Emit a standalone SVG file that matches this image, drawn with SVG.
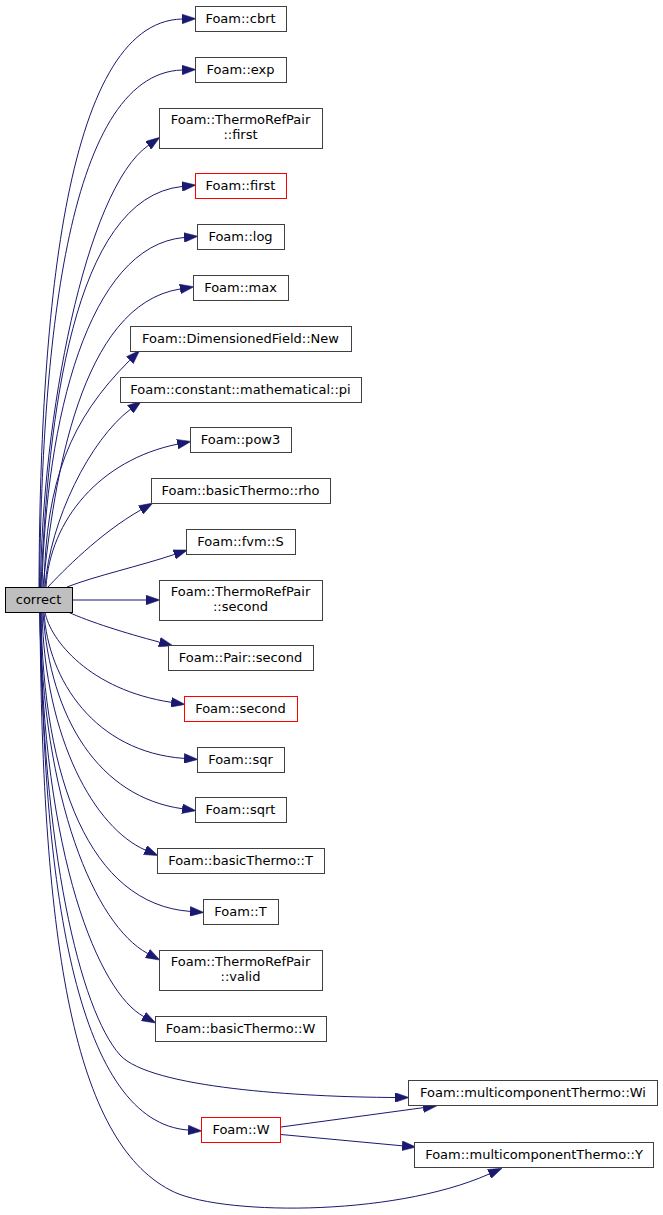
<svg xmlns="http://www.w3.org/2000/svg" width="663" height="1215" viewBox="0 0 663 1215">
<style>
.node rect{fill:#ffffff;stroke:#404040;stroke-width:1}
.node.red rect{stroke:#ff0000}
.node.cur rect{fill:#bfbfbf;stroke:#000000}
text{font-family:"DejaVu Sans","Liberation Sans",sans-serif;font-size:13px;text-anchor:middle;fill:#000000}
.edges path{fill:none;stroke:#191970;stroke-width:1;marker-end:url(#arr)}
</style>
<defs>
<marker id="arr" markerUnits="userSpaceOnUse" markerWidth="14" markerHeight="10" viewBox="0 0 13 9" refX="0" refY="4.5" orient="auto">
<path d="M0,0 L13,4.5 L0,9 z" fill="#191970" stroke="#191970" stroke-width="0.5"/>
</marker>
</defs>
<rect width="663" height="1215" fill="#ffffff"/>
<g class="edges">
<path d="M39,587 C40,330 62,22 182,19"/>
<path d="M39.5,587 C42,360 64,74 182,70"/>
<path d="M40.5,587 C42,420 85,190 148.3,145.4"/>
<path d="M41,587 C48,420 72,198 182,186.5"/>
<path d="M42,587 C46,420 88,246 184,237.5"/>
<path d="M43,587 C54,480 80,305 180,289"/>
<path d="M44,587 C46,480 70,420 129.8,360.2"/>
<path d="M45,587 C50,520 90,440 130.3,409.4"/>
<path d="M46,587 C50,520 100,460 177.3,444.2"/>
<path d="M48,587 C62,572 100,533 140.7,510"/>
<path d="M67,587 C95,576 140,566 174.2,554.5"/>
<path d="M72,600 L146,600"/>
<path d="M68,612 C90,622 125,633 159.4,642.1"/>
<path d="M45,612 C50,640 90,690 171.2,702.3"/>
<path d="M44,612 C48,680 95,752 184,758.4"/>
<path d="M43,612 C50,720 100,797 182.1,808.7"/>
<path d="M42,612 C45,740 95,828 145.2,850"/>
<path d="M41,612 C43,780 90,904 190,911.4"/>
<path d="M40,612 C42,800 95,925 147.5,953.4"/>
<path d="M40,612 C42,860 100,993 143.5,1016.4"/>
<path d="M40,612 C42,850 80,1010 120,1055 C150,1088 300,1097 395,1097.5"/>
<path d="M41,612 C42,900 80,1122 188,1130"/>
<path d="M40,612 C42,950 75,1140 170,1190 C215,1215 390,1218 489.2,1174"/>
<path d="M281,1127 L423.1,1107.7"/>
<path d="M281,1134.5 L402.1,1145.8"/>
</g>
<g id="node-cbrt" class="node"><rect x="195.5" y="6.5" width="91" height="25"/><text x="240.5" y="23">Foam::cbrt</text></g>
<g id="node-exp" class="node"><rect x="195.5" y="57.5" width="91" height="25"/><text x="240.5" y="74">Foam::exp</text></g>
<g id="node-trp-first" class="node"><rect x="159.5" y="108.5" width="163" height="40"/><text x="240.5" y="124">Foam::ThermoRefPair</text><text x="240.5" y="138.5">::first</text></g>
<g id="node-first" class="node red"><rect x="195.5" y="173.5" width="91" height="25"/><text x="240.5" y="190">Foam::first</text></g>
<g id="node-log" class="node"><rect x="197.5" y="224.5" width="87" height="25"/><text x="240.5" y="241">Foam::log</text></g>
<g id="node-max" class="node"><rect x="193.5" y="275.5" width="95" height="25"/><text x="240.5" y="292">Foam::max</text></g>
<g id="node-new" class="node"><rect x="130.5" y="326.5" width="221" height="25"/><text x="240.5" y="343">Foam::DimensionedField::New</text></g>
<g id="node-pi" class="node"><rect x="120.5" y="377.5" width="241" height="25"/><text x="240.5" y="394">Foam::constant::mathematical::pi</text></g>
<g id="node-pow3" class="node"><rect x="190.5" y="427.5" width="101" height="25"/><text x="240.5" y="444">Foam::pow3</text></g>
<g id="node-rho" class="node"><rect x="151.5" y="478.5" width="179" height="25"/><text x="240.5" y="495">Foam::basicThermo::rho</text></g>
<g id="node-fvms" class="node"><rect x="186.5" y="529.5" width="109" height="25"/><text x="240.5" y="546">Foam::fvm::S</text></g>
<g id="node-correct" class="node cur"><rect x="5.5" y="587.5" width="67" height="25"/><text x="38.5" y="604">correct</text></g>
<g id="node-trp-second" class="node"><rect x="159.5" y="580.5" width="163" height="40"/><text x="240.5" y="596">Foam::ThermoRefPair</text><text x="240.5" y="610.5">::second</text></g>
<g id="node-pair-second" class="node"><rect x="168.5" y="645.5" width="145" height="25"/><text x="240.5" y="662">Foam::Pair::second</text></g>
<g id="node-second" class="node red"><rect x="184.5" y="696.5" width="113" height="25"/><text x="240.5" y="713">Foam::second</text></g>
<g id="node-sqr" class="node"><rect x="197.5" y="747.5" width="87" height="25"/><text x="240.5" y="764">Foam::sqr</text></g>
<g id="node-sqrt" class="node"><rect x="195.5" y="797.5" width="91" height="25"/><text x="240.5" y="814">Foam::sqrt</text></g>
<g id="node-bt-t" class="node"><rect x="157.5" y="848.5" width="167" height="25"/><text x="240.5" y="865">Foam::basicThermo::T</text></g>
<g id="node-t" class="node"><rect x="203.5" y="899.5" width="75" height="25"/><text x="240.5" y="916">Foam::T</text></g>
<g id="node-trp-valid" class="node"><rect x="159.5" y="950.5" width="163" height="40"/><text x="240.5" y="966">Foam::ThermoRefPair</text><text x="240.5" y="980.5">::valid</text></g>
<g id="node-bt-w" class="node"><rect x="155.5" y="1016.5" width="171" height="25"/><text x="240.5" y="1033">Foam::basicThermo::W</text></g>
<g id="node-wi" class="node"><rect x="408.5" y="1080.5" width="249" height="25"/><text x="533" y="1097">Foam::multicomponentThermo::Wi</text></g>
<g id="node-w" class="node red"><rect x="201.5" y="1117.5" width="79" height="25"/><text x="241" y="1134">Foam::W</text></g>
<g id="node-y" class="node"><rect x="414.5" y="1142.5" width="239" height="25"/><text x="534" y="1159">Foam::multicomponentThermo::Y</text></g>
</svg>
